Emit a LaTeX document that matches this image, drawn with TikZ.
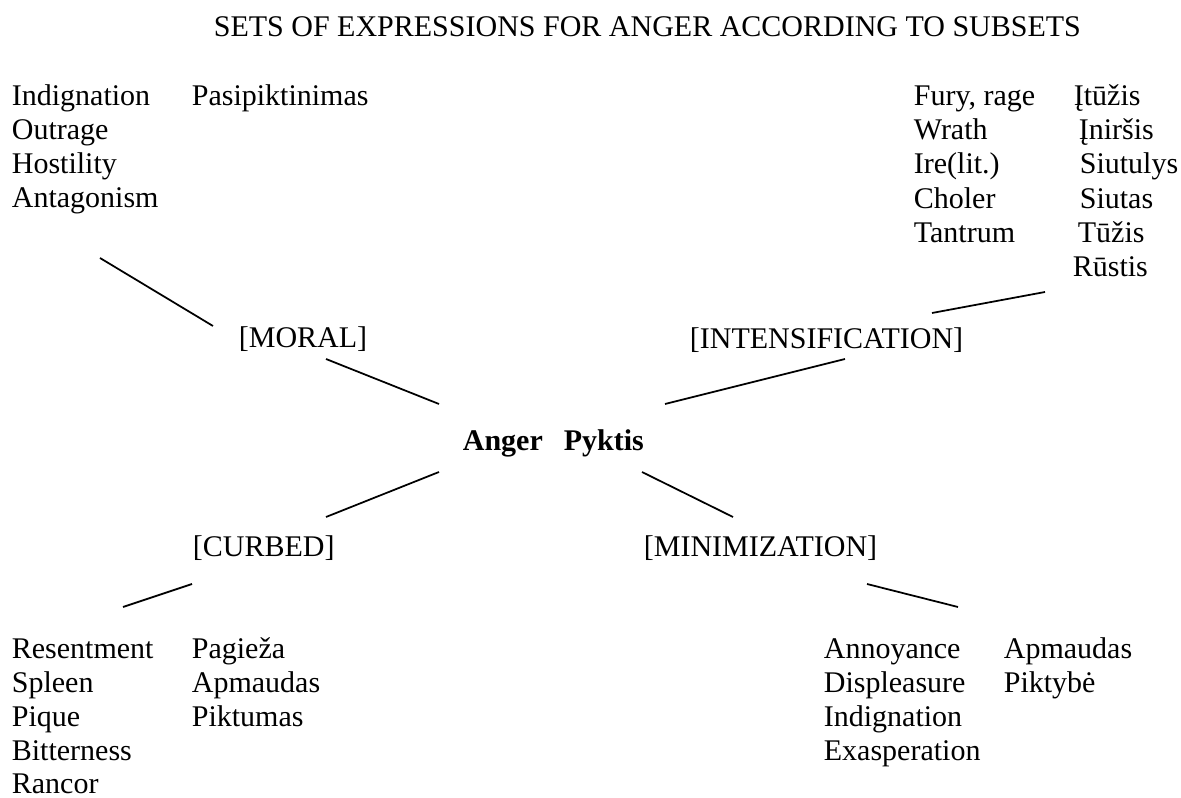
\documentclass[tikz,border=0pt]{standalone}
\usepackage{fontspec}
\setmainfont{Liberation Serif}
\tikzset{word/.style={anchor=base west, inner sep=0pt, font=\fontsize{12}{13.6}\selectfont},
  core/.style={word, font=\fontsize{12}{13.6}\selectfont\bfseries}}
\begin{document}
\begin{tikzpicture}
[x=0.4pt, y=-0.4pt, line width=0.7pt]
\useasboundingbox (0,0) rectangle (1181,798);
\node [word] (title) at (213,37) {SETS OF EXPRESSIONS FOR ANGER ACCORDING TO SUBSETS};
% moral
\node [word] (mor1) at (11,106) {Indignation};
\node [word] (mor2) at (11,140) {Outrage};
\node [word] (mor3) at (11,174) {Hostility};
\node [word] (mor4) at (11,208) {Antagonism};
\node [word] (morlt) at (191,106) {Pasipiktinimas};
\node [word] (moral) at (238,348) {[MORAL]};
% intensification
\node [word] (int1) at (913,106) {Fury, rage};
\node [word] (int2) at (913,140) {Wrath};
\node [word] (int3) at (913,174) {Ire(lit.)};
\node [word] (int4) at (913,209) {Choler};
\node [word] (int5) at (913,243) {Tantrum};
\node [word] (intlt1) at (1073,106) {Įtūžis};
\node [word] (intlt2) at (1078,140) {Įniršis};
\node [word] (intlt3) at (1079,174) {Siutulys};
\node [word] (intlt4) at (1079,209) {Siutas};
\node [word] (intlt5) at (1077,243) {Tūžis};
\node [word] (intlt6) at (1072,277) {Rūstis};
\node [word] (intens) at (689,349) {[INTENSIFICATION]};
% centre
\node [core] (anger) at (462,451) {Anger\hspace{8.4pt}Pyktis};
% curbed
\node [word] (curbed) at (192,557) {[CURBED]};
\node [word] (cur1) at (11,659) {Resentment};
\node [word] (cur2) at (11,693) {Spleen};
\node [word] (cur3) at (11,727) {Pique};
\node [word] (cur4) at (11,761) {Bitterness};
\node [word] (cur5) at (11,794) {Rancor};
\node [word] (curlt1) at (191,659) {Pagieža};
\node [word] (curlt2) at (191,693) {Apmaudas};
\node [word] (curlt3) at (191,727) {Piktumas};
% minimization
\node [word] (minim) at (643,557) {[MINIMIZATION]};
\node [word] (min1) at (823,659) {Annoyance};
\node [word] (min2) at (823,693) {Displeasure};
\node [word] (min3) at (823,727) {Indignation};
\node [word] (min4) at (823,761) {Exasperation};
\node [word] (minlt1) at (1003,659) {Apmaudas};
\node [word] (minlt2) at (1003,693) {Piktybė};
% line ends
\coordinate (morA) at (100,258);
\coordinate (morB) at (213,326);
\coordinate (morC) at (326,359);
\coordinate (morD) at (439,404);
\coordinate (intA) at (1045,292);
\coordinate (intB) at (932,313);
\coordinate (intC) at (845,359);
\coordinate (intD) at (665,404);
\coordinate (curA) at (439,472);
\coordinate (curB) at (326,517);
\coordinate (curC) at (192,584);
\coordinate (curD) at (123,607);
\coordinate (minA) at (642,472);
\coordinate (minB) at (733,517);
\coordinate (minC) at (867,584);
\coordinate (minD) at (958,607);
\draw (morA) -- (morB);
\draw (morC) -- (morD);
\draw (intA) -- (intB);
\draw (intC) -- (intD);
\draw (curA) -- (curB);
\draw (curC) -- (curD);
\draw (minA) -- (minB);
\draw (minC) -- (minD);
\end{tikzpicture}
\end{document}
